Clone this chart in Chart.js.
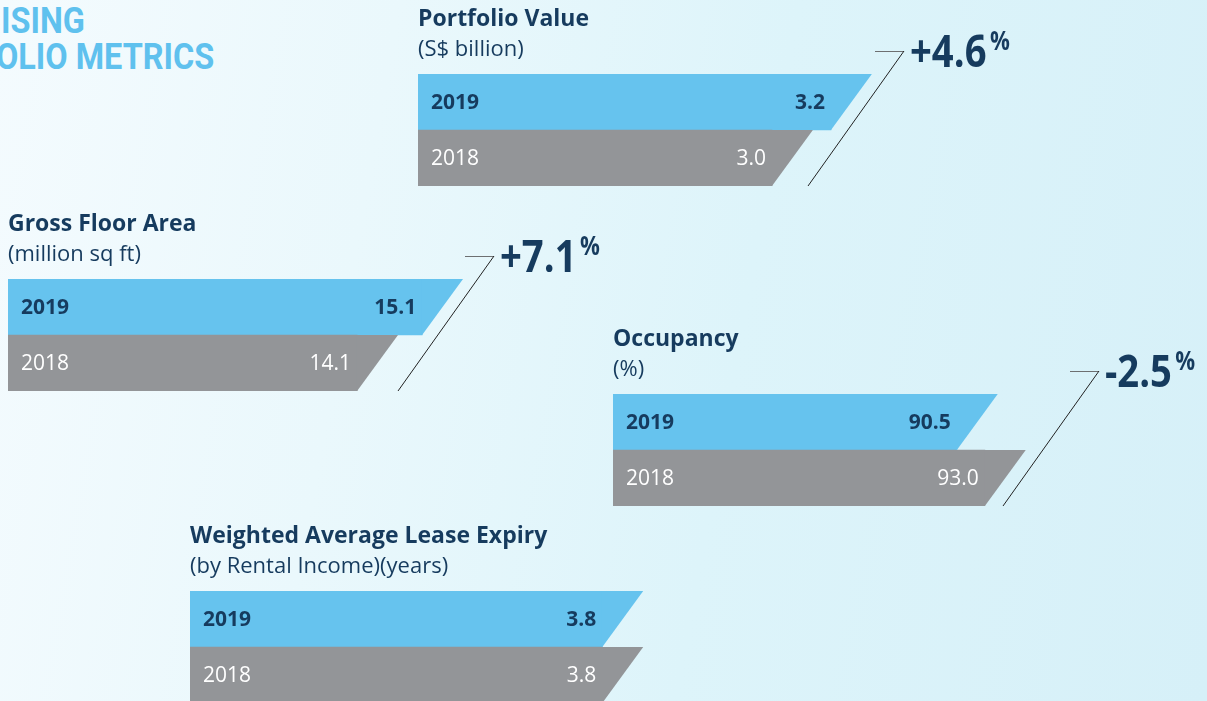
<!DOCTYPE html>
<html><head><meta charset="utf-8">
<script src="https://cdn.jsdelivr.net/npm/chart.js@4.4.1/dist/chart.umd.min.js"></script>
<style>
html,body{margin:0;padding:0;width:1207px;height:701px;overflow:hidden;}
body{position:relative;background:linear-gradient(100deg,#f4fbfe 0%,#eaf8fc 30%,#ddf4fa 60%,#d6f0f8 100%);font-family:"Open Sans",sans-serif;}
.hdr{position:absolute;color:#5fc1ee;font-family:Roboto,sans-serif;font-weight:700;font-size:36px;line-height:36px;transform:scaleX(.9);transform-origin:0 0;white-space:nowrap;}
canvas{position:absolute;}
</style></head><body>
<div class="hdr" style="left:1px;top:3px">ISING</div>
<div class="hdr" style="left:-4px;top:39px">OLIO METRICS</div>
<canvas id="c0" width="600" height="190" style="left:418px;top:0px"></canvas>
<canvas id="c1" width="600" height="190" style="left:8px;top:205px"></canvas>
<canvas id="c2" width="600" height="190" style="left:613px;top:320px"></canvas>
<canvas id="c3" width="600" height="190" style="left:190px;top:517px"></canvas>
<script>
// ---- data ----
const years = ['2019', '2018'];
const titles = ['Portfolio Value', 'Gross Floor Area', 'Occupancy', 'Weighted Average Lease Expiry'];
const units = ['(S$ billion)', '(million sq ft)', '(%)', '(by Rental Income)(years)'];
const portfolioValue = [3.2, 3.0];
const grossFloorArea = [15.1, 14.1];
const occupancy = [90.5, 93.0];
const wale = [3.8, 3.8];
const changes = ['+4.6', '+7.1', '-2.5', null];

const NAVY = '#163b5e';
const BAR_COLORS = ['#66c3ee', '#939598'];

const blocks = [
  {id: 'c0', title: titles[0], unit: units[0], values: portfolioValue, change: changes[0], min: 1.8, max: 3.4},
  {id: 'c1', title: titles[1], unit: units[1], values: grossFloorArea, change: changes[1], min: 8.73, max: 15.99},
  {id: 'c2', title: titles[2], unit: units[2], values: occupancy, change: changes[2], min: 59.8, max: 101.94},
  {id: 'c3', title: titles[3], unit: units[3], values: wale, change: changes[3], min: 0, max: 4.35}
];

const slantPlugin = {
  id: 'slantBars',
  afterDatasetsDraw(chart, args, opts) {
    const ctx = chart.ctx;
    const area = chart.chartArea;
    const meta = chart.getDatasetMeta(0);
    const values = chart.data.datasets[0].data;
    ctx.save();
    meta.data.forEach((bar, i) => {
      const {x, y, height} = bar.getProps(['x', 'y', 'height'], true);
      const top = y - height / 2, bot = y + height / 2;
      const slant = height * 0.73;
      ctx.fillStyle = BAR_COLORS[i];
      ctx.beginPath();
      ctx.moveTo(x - 0.5, top);
      ctx.lineTo(x + slant, top);
      ctx.lineTo(x, bot);
      ctx.lineTo(x - 0.5, bot);
      ctx.closePath();
      ctx.fill();
      const bold = i === 0;
      ctx.font = (bold ? '700 ' : '400 ') + '21px "Open Sans"';
      ctx.fillStyle = bold ? NAVY : '#ffffff';
      ctx.textBaseline = 'middle';
      ctx.textAlign = 'left';
      ctx.fillText(chart.data.labels[i], area.left + 13, y + 1);
      ctx.textAlign = 'right';
      ctx.fillText(values[i].toFixed(1), x - 6, y + 1);
    });
    ctx.restore();

    const change = opts.change;
    if (change) {
      const cx = area.left + 486, cy = area.top - 23;
      ctx.save();
      ctx.lineWidth = 1;
      ctx.strokeStyle = '#6d6f71';
      ctx.beginPath();
      ctx.moveTo(cx - 29, cy + 0.5);
      ctx.lineTo(cx, cy + 0.5);
      ctx.stroke();
      ctx.strokeStyle = '#222222';
      ctx.beginPath();
      ctx.moveTo(cx, cy);
      ctx.lineTo(cx - 96, area.bottom);
      ctx.stroke();
      ctx.fillStyle = NAVY;
      ctx.textAlign = 'left';
      ctx.textBaseline = 'alphabetic';
      ctx.translate(cx + 6, cy + 16);
      ctx.scale(0.85, 1);
      ctx.font = '700 45px "Open Sans"';
      ctx.fillText(change, 0, 0);
      const w = ctx.measureText(change).width;
      ctx.font = '700 26px "Open Sans"';
      ctx.fillText('%', w + 4, -17);
      ctx.restore();
    }
  }
};

blocks.forEach(b => {
  new Chart(document.getElementById(b.id), {
    type: 'bar',
    data: {
      labels: years,
      datasets: [{
        data: b.values,
        backgroundColor: BAR_COLORS,
        borderWidth: 0,
        categoryPercentage: 1,
        barPercentage: 1,
        base: b.min
      }]
    },
    options: {
      indexAxis: 'y',
      responsive: false,
      animation: false,
      events: [],
      layout: {padding: {left: 0, top: 0, right: 128, bottom: 4}},
      scales: {
        x: {type: 'linear', min: b.min, max: b.max, display: false},
        y: {type: 'category', display: false}
      },
      plugins: {
        legend: {display: false},
        tooltip: {enabled: false},
        title: {
          display: true, text: b.title, align: 'start', color: NAVY,
          font: {family: 'Open Sans', size: 23, weight: 'bold', lineHeight: 1},
          padding: {top: 7.6, bottom: 0}
        },
        subtitle: {
          display: true, text: b.unit, align: 'start', color: NAVY,
          font: {family: 'Open Sans', size: 22, weight: 'normal', lineHeight: 1},
          padding: {top: 8.4, bottom: 13}
        },
        slantBars: {change: b.change}
      }
    },
    plugins: [slantPlugin]
  });
});
</script>
</body></html>
